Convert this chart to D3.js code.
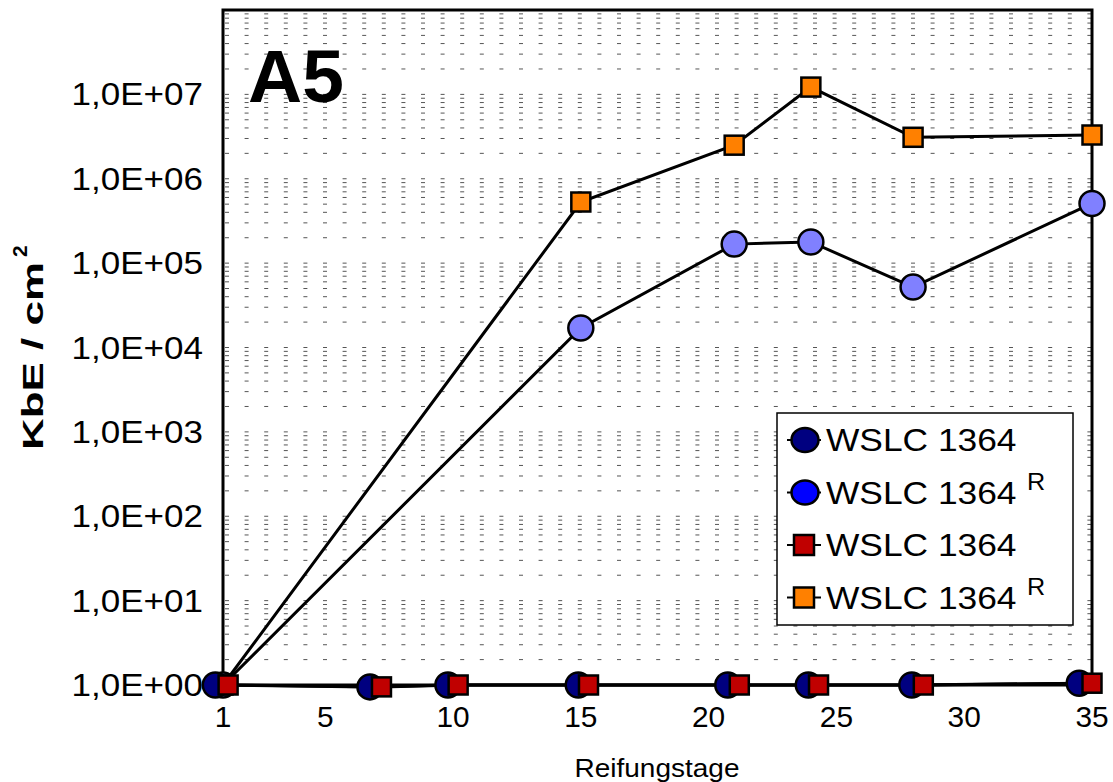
<!DOCTYPE html>
<html>
<head>
<meta charset="utf-8">
<script src="https://cdn.jsdelivr.net/npm/d3@7"></script>
<style>
  body { margin: 0; background: #fff; }
  text { font-family: Arial, "Liberation Sans", sans-serif; }
</style>
</head>
<body>
<div id="my_dataviz"></div>
<script>
// data
var daysCircle = [0.7, 6.75, 9.8, 14.9, 20.75, 23.9, 27.95, 34.5];
var valCircle  = [1, 0.95, 1, 1, 1, 1, 1, 1.05];
var daysSquare = [1.2, 7.2, 10.2, 15.3, 21.2, 24.3, 28.4, 35];
var valSquare  = [1, 0.95, 1, 1, 1, 1, 1, 1.05];
var daysR      = [1, 15, 21, 24, 28, 35];
var valCircleR = [1, 1.7e4, 1.68e5, 1.78e5, 5.2e4, 5.1e5];
var valSquareR = [1, 5.3e5, 2.5e6, 1.22e7, 3.1e6, 3.3e6];
var xTicks = [1, 5, 10, 15, 20, 25, 30, 35];
var yTicks = [1, 1e1, 1e2, 1e3, 1e4, 1e5, 1e6, 1e7];
var yTickLabels = ["1,0E+00", "1,0E+01", "1,0E+02", "1,0E+03", "1,0E+04", "1,0E+05", "1,0E+06", "1,0E+07"];
var legendNames = ["WSLC 1364", "WSLC 1364", "WSLC 1364", "WSLC 1364"];
var legendSup = ["", "R", "", "R"];

// set the dimensions
var W = 1113, H = 782;
var plot = {left: 223, right: 1092, top: 10, bottom: 685};

var svg = d3.select("#my_dataviz")
  .append("svg")
    .attr("width", W)
    .attr("height", H);

var x = d3.scaleLinear().domain([1, 35]).range([plot.left, plot.right]);
var y = d3.scaleLog().domain([1, 1e8]).range([plot.bottom, plot.top]);

// text helper: horizontally stretched text like the original picture
function addText(str, px, py, size, sx, anchor, weight) {
  return svg.append("text")
    .attr("transform", "translate(" + px + "," + py + ") scale(" + sx + ",1)")
    .attr("text-anchor", anchor)
    .attr("font-size", size + "px")
    .attr("font-weight", weight || "normal")
    .attr("fill", "#000")
    .text(str);
}

// dashed log grid (2..10 of every decade)
var gridVals = [];
for (var k = 0; k < 8; k++) {
  for (var m = 2; m <= 10; m++) gridVals.push(m * Math.pow(10, k));
}
svg.append("g")
  .selectAll("line")
  .data(gridVals)
  .enter()
  .append("line")
    .attr("x1", plot.left + 2)
    .attr("x2", plot.right)
    .attr("y1", function(d) { return y(d); })
    .attr("y2", function(d) { return y(d); })
    .attr("stroke", "#555")
    .attr("stroke-width", 1)
    .attr("stroke-dasharray", "4,15.6");

// frame
svg.append("rect")
  .attr("x", plot.left)
  .attr("y", plot.top)
  .attr("width", plot.right - plot.left)
  .attr("height", plot.bottom - plot.top)
  .attr("fill", "none")
  .attr("stroke", "#000")
  .attr("stroke-width", 3);

// y tick labels
yTicks.forEach(function(v, i) {
  addText(yTickLabels[i], 203, y(v) + 11, 31, 1.13, "end");
});

// x tick labels
xTicks.forEach(function(v) {
  addText(String(v), x(v), 727, 29, 1.03, "middle");
});

// axis titles
addText("Reifungstage", 657, 777, 25, 1.12, "middle");

svg.append("text")
  .attr("transform", "translate(43,450) rotate(-90)")
  .attr("font-size", "30px")
  .attr("font-weight", "bold")
  .attr("textLength", 188)
  .attr("lengthAdjust", "spacingAndGlyphs")
  .text("KbE / cm");
svg.append("text")
  .attr("transform", "translate(27,257) rotate(-90)")
  .attr("font-size", "21px")
  .attr("font-weight", "bold")
  .text("2");

// panel label
addText("A5", 248, 102, 75, 1.0, "start", "bold");

// series
var line = d3.line()
  .x(function(d) { return x(d.day); })
  .y(function(d) { return y(d.value); });

function zip(days, vals) {
  return days.map(function(d, i) { return {day: d, value: vals[i]}; });
}

var series = [
  {name: "WSLC 1364 R", shape: "circle", color: "#8080FF", values: zip(daysR, valCircleR)},
  {name: "WSLC 1364 R", shape: "square", color: "#FF8000", values: zip(daysR, valSquareR)},
  {name: "WSLC 1364", shape: "circle", color: "#000080", values: zip(daysCircle, valCircle)},
  {name: "WSLC 1364", shape: "square", color: "#C00000", values: zip(daysSquare, valSquare)}
];

series.forEach(function(s) {
  svg.append("path")
    .attr("d", line(s.values))
    .attr("fill", "none")
    .attr("stroke", "#000")
    .attr("stroke-width", 3);
});

series.forEach(function(s) {
  var g = svg.append("g");
  if (s.shape === "circle") {
    g.selectAll("circle")
      .data(s.values)
      .enter()
      .append("circle")
        .attr("cx", function(d) { return x(d.day); })
        .attr("cy", function(d) { return y(d.value); })
        .attr("r", 12.5)
        .attr("fill", s.color)
        .attr("stroke", "#000")
        .attr("stroke-width", 2.5);
  } else {
    g.selectAll("rect")
      .data(s.values)
      .enter()
      .append("rect")
        .attr("x", function(d) { return x(d.day) - 9.5; })
        .attr("y", function(d) { return y(d.value) - 9.5; })
        .attr("width", 19)
        .attr("height", 19)
        .attr("fill", s.color)
        .attr("stroke", "#000")
        .attr("stroke-width", 2.5);
  }
});

// legend
var legendItems = [
  {shape: "circle", color: "#000080"},
  {shape: "circle", color: "#0000FF"},
  {shape: "square", color: "#C00000"},
  {shape: "square", color: "#FF8000"}
];
svg.append("rect")
  .attr("x", 777)
  .attr("y", 413)
  .attr("width", 296)
  .attr("height", 212)
  .attr("fill", "#fff")
  .attr("stroke", "#000")
  .attr("stroke-width", 1.5);

legendItems.forEach(function(d, i) {
  var cy = 440 + i * 52.5;
  svg.append("line")
    .attr("x1", 787).attr("x2", 821)
    .attr("y1", cy).attr("y2", cy)
    .attr("stroke", "#000")
    .attr("stroke-width", 2);
  if (d.shape === "circle") {
    svg.append("ellipse")
      .attr("cx", 805).attr("cy", cy)
      .attr("rx", 13.5).attr("ry", 12)
      .attr("fill", d.color)
      .attr("stroke", "#000")
      .attr("stroke-width", 2.5);
  } else {
    svg.append("rect")
      .attr("x", 794).attr("y", cy - 10)
      .attr("width", 20).attr("height", 20)
      .attr("fill", d.color)
      .attr("stroke", "#000")
      .attr("stroke-width", 2.5);
  }
  addText(legendNames[i], 826, cy + 11, 31, 1.14, "start");
  if (legendSup[i]) addText(legendSup[i], 1027, cy - 3, 24, 1.05, "start");
});
</script>
</body>
</html>
